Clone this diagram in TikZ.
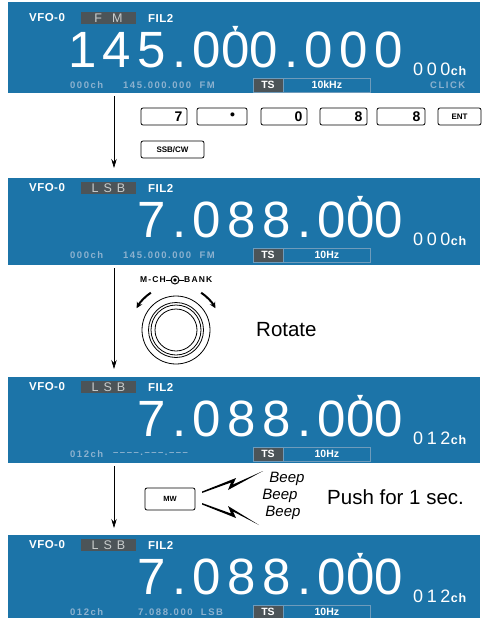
\documentclass[tikz,border=0pt]{standalone}
\usepackage{fontspec}
\setmainfont{Liberation Sans}
\newfontfamily\symfont{DejaVu Sans}
\usepackage{xcolor}
\usetikzlibrary{arrows.meta, positioning}

\definecolor{lcdblue}{HTML}{1C74A8}
\definecolor{lcddim}{HTML}{8DB2CF}
\definecolor{lcdgray}{HTML}{4C5458}
\definecolor{lcdline}{HTML}{6E9BBB}
\definecolor{modetext}{HTML}{C9CDCD}

% small tick above the digit being tuned
\newcommand{\tk}[1]{\ooalign{#1\cr\hidewidth\raisebox{0.69em}{\symfont\fontsize{8}{8}\selectfont ▼}\hidewidth\cr}}

\begin{document}
\begin{tikzpicture}[x=1pt, y=-1pt,
    toplbl/.style={text=white, inner sep=0pt, anchor=west, font=\fontsize{11.5}{11.5}\selectfont\bfseries\addfontfeature{LetterSpace=4}},
    modebox/.style={fill=lcdgray, text=modetext, minimum width=55pt, minimum height=12pt, inner sep=0pt, font=\fontsize{12.5}{12.5}\selectfont},
    bigfreq/.style={text=white, inner sep=0pt, anchor=base east, font=\fontsize{51}{51}\selectfont\addfontfeature{LetterSpace=12.5}},
    chnum/.style={text=white, inner sep=0pt, anchor=base west, font=\fontsize{18}{18}\selectfont\addfontfeature{LetterSpace=20}},
    chtag/.style={text=white, inner sep=0pt, anchor=base west, font=\fontsize{12.5}{12.5}\selectfont\bfseries\addfontfeature{LetterSpace=6}},
    dimlbl/.style={text=lcddim, inner sep=0pt, anchor=west, font=\fontsize{9.5}{9.5}\selectfont\bfseries\addfontfeature{LetterSpace=16}},
    knoblbl/.style={inner sep=0pt, font=\fontsize{8.5}{8.5}\selectfont\bfseries\addfontfeature{LetterSpace=14}},
    tsbox/.style={fill=lcdgray, draw=lcdline, text=white, minimum width=30pt, minimum height=14pt, inner sep=0pt, font=\fontsize{10.5}{10.5}\selectfont\bfseries},
    stepbox/.style={draw=lcdline, text=white, minimum width=87pt, minimum height=14pt, inner sep=0pt, anchor=west, font=\fontsize{10.5}{10.5}\selectfont\bfseries},
    key/.style={draw, fill=white, rounded corners=2pt, line width=0.8pt, minimum height=17pt, inner sep=0pt, font=\fontsize{14}{14}\selectfont\bfseries},
    smallkey/.style={key, font=\fontsize{8}{8}\selectfont\bfseries},
    flow/.style={-{Stealth[length=9pt, width=5.5pt]}, line width=0.7pt},
    turn/.style={-{Stealth[length=6pt, width=6pt]}, line width=2pt},
    bigtext/.style={inner sep=0pt, font=\fontsize{20.5}{20.5}\selectfont},
    beep/.style={inner sep=0pt, font=\fontsize{15}{15}\selectfont\itshape}]
    \useasboundingbox (0,0) rectangle (483,618);

    % 1. Màn hình 1: 145.000.000 FM
    \fill[lcdblue] (8,2) rectangle (480,93);
    \node[toplbl] (vfoA) at (29,18) {VFO-0};
    \node[modebox] (modeA) at (108.5,18) {F\hspace{10pt}M};
    \node[toplbl] (filA) at (148,18) {FIL2};
    \node[bigfreq] (freqA) at (403,67) {145.0\tk{0}0.000};
    \node[chnum] (chA) at (413,75) {000};
    \node[chtag] (chtA) at (chA.base east) {ch};
    \node[dimlbl] (memA) at (70,85) {000ch};
    \node[dimlbl] (memfA) at (123,85) {145.000.000\ \ FM};
    \node[tsbox] (tsA) at (268,85) {TS};
    \node[stepbox] (stepA) at (tsA.east) {10kHz};
    \node[dimlbl] (clickA) at (430,85) {CLICK};

    % 2. Nhập tần số bằng bàn phím
    \coordinate (a1s) at (114,96);
    \coordinate (a1e) at (114,168);
    \draw[flow] (a1s) -- (a1e);
    \node[key, minimum width=46pt, text width=37pt, align=right] (k7) at (164,116.5) {7};
    \node[key, minimum width=50pt, text width=26pt, align=right] (kdot) at (222,116.5) {•};
    \node[key, minimum width=46pt, text width=37pt, align=right] (k0) at (284,116.5) {0};
    \node[key, minimum width=47pt, text width=38pt, align=right] (k8a) at (343.5,116.5) {8};
    \node[key, minimum width=48pt, text width=39pt, align=right] (k8b) at (401,116.5) {8};
    \node[smallkey, minimum width=43pt] (kent) at (459.5,116.5) {ENT};
    \node[smallkey, minimum width=63pt] (kssb) at (172.5,149.5) {SSB/CW};

    % 3. Màn hình 2: 7.088.000 LSB
    \fill[lcdblue] (8,178) rectangle (480,265);
    \node[toplbl] (vfoB) at (29,188) {VFO-0};
    \node[modebox] (modeB) at (108.5,188) {L\hspace{5pt}S\hspace{5pt}B};
    \node[toplbl] (filB) at (148,188) {FIL2};
    \node[bigfreq] (freqB) at (403,237) {7.088.0\tk{0}0};
    \node[chnum] (chB) at (413,245) {000};
    \node[chtag] (chtB) at (chB.base east) {ch};
    \node[dimlbl] (memB) at (70,255) {000ch};
    \node[dimlbl] (memfB) at (123,255) {145.000.000\ \ FM};
    \node[tsbox] (tsB) at (268,255) {TS};
    \node[stepbox] (stepB) at (tsB.east) {10Hz};

    % 4. Núm M-CH xoay
    \coordinate (a2s) at (114,268);
    \coordinate (a2e) at (114,369);
    \draw[flow] (a2s) -- (a2e);
    \node[knoblbl, anchor=east] (mch) at (166,280) {M-CH};
    \node[knoblbl, anchor=west] (bank) at (184,280) {BANK};
    \draw[line width=1pt] (mch.east) -- (bank.west);
    \draw[line width=1pt, fill=white] (175,280) circle (4);
    \fill (175,280) circle (1.8);
    \coordinate (knob) at (176,330);
    \draw[line width=0.8pt] (knob) circle (34);
    \draw[line width=0.8pt] (knob) circle (27.5);
    \draw[line width=0.8pt] (knob) circle (25);
    \draw[line width=0.8pt] (knob) circle (21);
    \draw[turn] ([shift={(236:45)}]knob) arc (236:209:45);
    \draw[turn] ([shift={(304:45)}]knob) arc (304:331:45);
    \node[bigtext, anchor=west] (rot) at (256,330) {Rotate};

    % 5. Màn hình 3: kênh 012 trống
    \fill[lcdblue] (8,377) rectangle (480,463);
    \node[toplbl] (vfoC) at (29,387) {VFO-0};
    \node[modebox] (modeC) at (108.5,387) {L\hspace{5pt}S\hspace{5pt}B};
    \node[toplbl] (filC) at (148,387) {FIL2};
    \node[bigfreq] (freqC) at (403,436) {7.088.0\tk{0}0};
    \node[chnum] (chC) at (413,444) {012};
    \node[chtag] (chtC) at (chC.base east) {ch};
    \node[dimlbl] (memC) at (70,454) {012ch};
    \node[dimlbl] (memfC) at (113,454) {{--}{--}{--}{--}.{--}{--}{--}.{--}{--}{--}};
    \node[tsbox] (tsC) at (268,454) {TS};
    \node[stepbox] (stepC) at (tsC.east) {10Hz};

    % 6. Nhấn giữ MW 1 giây
    \coordinate (a3s) at (114,466);
    \coordinate (a3e) at (114,528);
    \draw[flow] (a3s) -- (a3e);
    \node[smallkey, minimum width=50pt, minimum height=22pt, font=\fontsize{7.5}{7.5}\selectfont\bfseries] (kmw) at (170,499) {MW};
    \fill (202,491.5) -- (236,478) -- (233,484.5) -- (263,471) -- (228,490) -- (231,482.5) -- (202,493) -- cycle;
    \fill (202,504.5) -- (236,518) -- (233,511.5) -- (259,525) -- (228,506) -- (231,513.5) -- (202,503) -- cycle;
    \node[beep] (beep1) at (287,479) {Beep};
    \node[beep] (beep2) at (280,496) {Beep};
    \node[beep] (beep3) at (283,513) {Beep};
    \node[bigtext, anchor=west] (push) at (327,497) {Push for 1 sec.};

    % 7. Màn hình 4: đã ghi vào kênh 012
    \fill[lcdblue] (8,535) rectangle (480,618);
    \node[toplbl] (vfoD) at (29,545) {VFO-0};
    \node[modebox] (modeD) at (108.5,545) {L\hspace{5pt}S\hspace{5pt}B};
    \node[toplbl] (filD) at (148,545) {FIL2};
    \node[bigfreq] (freqD) at (403,594) {7.088.0\tk{0}0};
    \node[chnum] (chD) at (413,602) {012};
    \node[chtag] (chtD) at (chD.base east) {ch};
    \node[dimlbl] (memD) at (70,612) {012ch};
    \node[dimlbl] (memfD) at (138,612) {7.088.000\ \ LSB};
    \node[tsbox] (tsD) at (268,612) {TS};
    \node[stepbox] (stepD) at (tsD.east) {10Hz};

\end{tikzpicture}
\end{document}
